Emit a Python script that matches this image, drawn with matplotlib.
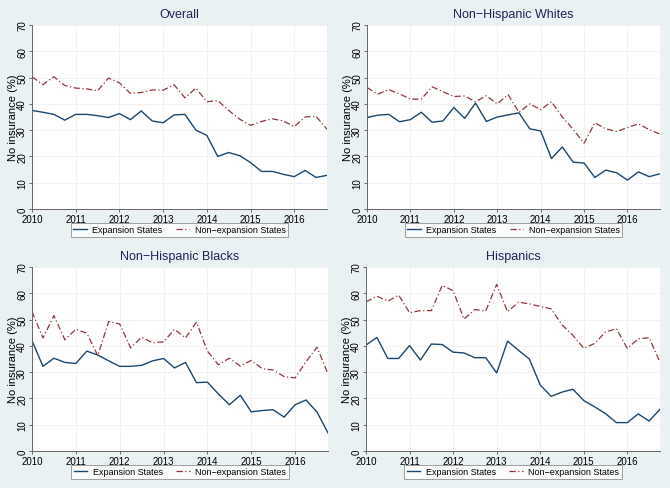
import matplotlib
matplotlib.use("Agg")
import matplotlib.pyplot as plt
import numpy as np

plt.rcParams["font.family"] = ["Liberation Sans", "DejaVu Sans"]

# quarterly observations, 2010q1 .. 2016q4
quarters = [2010 + i * 0.25 for i in range(28)]

overall_exp = [37.5, 36.8, 36.0, 33.8, 36.0, 36.0, 35.5, 34.8, 36.3, 34.0, 37.3, 33.5,
               32.8, 35.8, 36.0, 30.0, 28.0, 20.0, 21.5, 20.3, 17.7, 14.3, 14.3, 13.2,
               12.3, 14.7, 12.0, 12.8]
overall_non = [50.3, 47.3, 50.3, 47.0, 46.0, 45.7, 45.0, 49.8, 48.0, 44.0, 44.3, 45.3,
               45.2, 47.3, 42.3, 46.0, 40.8, 41.3, 37.5, 34.2, 31.8, 33.3, 34.3, 33.5,
               31.3, 35.0, 35.3, 30.3]

white_exp = [34.8, 35.7, 36.0, 33.2, 34.0, 36.8, 33.0, 33.5, 38.6, 34.5, 40.3, 33.3,
             35.0, 35.8, 36.6, 30.5, 29.7, 19.2, 23.6, 17.8, 17.5, 12.0, 14.8, 13.8,
             11.0, 14.1, 12.3, 13.4]
white_non = [46.2, 43.7, 45.4, 43.8, 41.8, 41.8, 46.5, 44.6, 42.8, 43.0, 40.8, 43.1,
             40.0, 43.5, 36.8, 40.0, 37.8, 40.8, 35.0, 30.3, 25.0, 32.8, 30.5, 29.5,
             31.0, 32.4, 30.2, 28.5]

black_exp = [42.0, 32.2, 35.3, 33.7, 33.3, 38.0, 36.5, 34.3, 32.2, 32.2, 32.6, 34.3,
             35.2, 31.6, 33.7, 26.0, 26.2, 21.7, 17.6, 21.2, 14.9, 15.4, 15.7, 12.9,
             17.6, 19.4, 14.8, 6.9]
black_non = [53.0, 43.0, 51.5, 42.3, 46.3, 44.8, 36.3, 49.3, 48.3, 39.2, 43.3, 41.2,
             41.5, 46.3, 43.0, 49.0, 38.0, 32.8, 35.3, 32.3, 34.5, 31.3, 30.8, 28.3,
             27.8, 34.0, 39.5, 29.3]

hisp_exp = [40.3, 43.2, 35.2, 35.2, 40.1, 34.6, 40.7, 40.5, 37.6, 37.3, 35.5, 35.5,
            29.7, 41.8, 38.3, 35.0, 25.1, 20.8, 22.4, 23.5, 19.2, 16.8, 14.2, 10.8,
            10.8, 14.1, 11.4, 15.9]
hisp_non = [56.7, 58.9, 57.0, 59.3, 52.6, 53.4, 53.4, 63.0, 61.0, 50.2, 53.8, 53.3,
            63.4, 53.0, 56.6, 56.0, 55.0, 54.1, 48.0, 44.0, 39.1, 40.9, 45.3, 46.5,
            39.0, 42.7, 43.1, 33.8]

panels = [
    ("Overall", overall_exp, overall_non),
    ("Non\u2212Hispanic Whites", white_exp, white_non),
    ("Non\u2212Hispanic Blacks", black_exp, black_non),
    ("Hispanics", hisp_exp, hisp_non),
]

year_ticks = [2010, 2011, 2012, 2013, 2014, 2015, 2016]
y_ticks = [0, 10, 20, 30, 40, 50, 60, 70]

BG = "#eaf1f3"
EXP_COL = "#1a476f"
NON_COL = "#90353b"
TITLE_COL = "#1e2456"

W, H = 670, 489
fig = plt.figure(figsize=(W / 100, H / 100), dpi=100, facecolor=BG)

# plot-area boxes in pixels: (left, top, width, height)
boxes = [(32, 26, 295, 184), (367, 26, 293, 184),
         (32, 268, 296, 184), (366, 268, 294, 184)]

for (title, exp, non), (l, t, w, h) in zip(panels, boxes):
    ax = fig.add_axes([l / W, 1 - (t + h) / H, w / W, h / H])
    ax.set_facecolor("white")
    ax.plot(quarters, exp, color=EXP_COL, lw=1.0, label="Expansion States")
    ax.plot(quarters, non, color=NON_COL, lw=0.9, dashes=(5, 2, 1, 2),
            label="Non\u2212expansion States")
    ax.set_xlim(2010, 2016.75)
    ax.set_ylim(0, 70)
    ax.set_xticks(year_ticks)
    ax.set_yticks(y_ticks)
    ax.set_yticklabels([str(v) for v in y_ticks], rotation=90, va="center")
    ax.tick_params(labelsize=7, length=2.5, width=0.6, color="#555555", pad=1)
    ax.grid(color="#f0f0f0", lw=0.6)
    ax.set_axisbelow(True)
    for s in ("top", "right"):
        ax.spines[s].set_visible(False)
    for s in ("left", "bottom"):
        ax.spines[s].set_color("#666666")
        ax.spines[s].set_linewidth(0.7)
    ax.set_ylabel("No insurance (%)", fontsize=8)
    ax.yaxis.set_label_coords(-14 / w, 0.5)
    ax.set_title(title, fontsize=9, color=TITLE_COL, pad=6)
    leg = ax.legend(loc="upper center", bbox_to_anchor=(0.5, -0.05), ncol=2,
                    fontsize=6.5, frameon=True, fancybox=False, handlelength=1.5,
                    columnspacing=1.5, borderpad=0.3, handletextpad=0.6)
    leg.get_frame().set_edgecolor("#777777")
    leg.get_frame().set_linewidth(0.6)

fig.savefig("out.png", dpi=100, facecolor=BG)
